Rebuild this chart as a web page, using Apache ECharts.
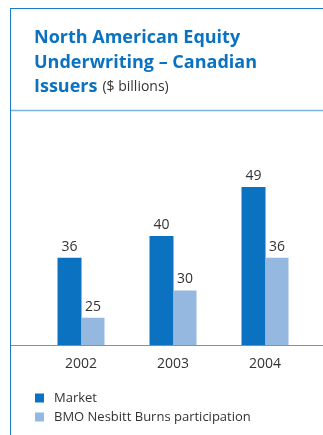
<!DOCTYPE html>
<html>
<head>
<meta charset="utf-8">
<script src="https://cdn.jsdelivr.net/npm/echarts@6/dist/echarts.min.js"></script>
<style>
  html, body { margin: 0; padding: 0; background: #fff; }
  #chart { width: 323px; height: 435px; }
</style>
</head>
<body>
<div id="chart"></div>
<script>
// data
var years = ['2002', '2003', '2004'];
var market = [36, 40, 49];
var bmoNesbitt = [25, 30, 36];
var seriesNames = ['Market', 'BMO Nesbitt Burns participation'];

var myChart = echarts.init(document.getElementById('chart'));

var frameBlue = '#1a7cc8';
var textGray = '#333';
var font = 'Open Sans';

var option = {
    animation: false,
    color: ['#0a72c0', '#95b8e0'],
    title: {
        left: 34,
        top: 26,
        padding: 0,
        text: '{b|North American Equity}\n{b|Underwriting – Canadian}\n{b|Issuers} {n|($ billions)}',
        textStyle: {
            rich: {
                b: { fontFamily: font, fontWeight: 'bold', fontSize: 18, color: '#0a72c0', lineHeight: 24.5 },
                n: { fontFamily: font, fontWeight: 'normal', fontSize: 14, color: textGray, lineHeight: 24.5 }
            }
        }
    },
    legend: {
        orient: 'vertical',
        left: 35,
        top: 390,
        padding: 0,
        itemWidth: 9,
        itemHeight: 9,
        itemGap: 3,
        icon: 'rect',
        data: seriesNames,
        textStyle: { fontFamily: font, fontSize: 13, color: textGray, lineHeight: 16, padding: [0, 0, 0, 5] }
    },
    grid: {
        left: 35,
        right: 12,
        top: 127,
        bottom: 90
    },
    xAxis: {
        type: 'category',
        data: years,
        axisLine: { show: false },
        axisTick: { show: false },
        axisLabel: { fontFamily: font, fontSize: 14, color: textGray, margin: 12 }
    },
    yAxis: {
        type: 'value',
        min: 20,
        max: 60,
        show: false
    },
    graphic: [
        // frame and rules
        { type: 'line', shape: { x1: 10.5, y1: 8, x2: 10.5, y2: 435 }, style: { stroke: frameBlue, lineWidth: 1 } },
        { type: 'line', shape: { x1: 10, y1: 8.5, x2: 323, y2: 8.5 }, style: { stroke: frameBlue, lineWidth: 1 } },
        { type: 'line', shape: { x1: 11, y1: 110.5, x2: 323, y2: 110.5 }, style: { stroke: '#7ab4e0', lineWidth: 1.5 } },
        { type: 'line', shape: { x1: 11, y1: 345.5, x2: 323, y2: 345.5 }, style: { stroke: '#4f9fd6', lineWidth: 1 } }
    ],
    series: [
        {
            name: seriesNames[0],
            type: 'bar',
            barWidth: 24,
            barGap: 0,
            data: market,
            label: { show: true, position: 'top', distance: 4, fontFamily: font, fontSize: 14, color: textGray }
        },
        {
            name: seriesNames[1],
            type: 'bar',
            barWidth: 23,
            barGap: 0,
            data: bmoNesbitt,
            label: { show: true, position: 'top', distance: 4, fontFamily: font, fontSize: 14, color: textGray }
        }
    ]
};

myChart.setOption(option);
</script>
</body>
</html>
